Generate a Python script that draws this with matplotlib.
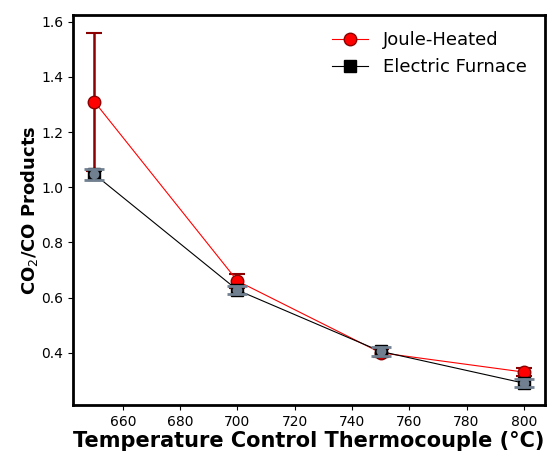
import matplotlib
matplotlib.use("Agg")
import matplotlib.pyplot as plt

temps = [650, 700, 750, 800]
joule = [1.31, 0.66, 0.40, 0.33]
joule_err = [0.25, 0.025, 0.015, 0.015]
furnace = [1.047, 0.627, 0.405, 0.29]
furnace_err = [0.02, 0.015, 0.015, 0.015]

fig = plt.figure(figsize=(5.48, 4.53), dpi=100)
ax = fig.add_axes([0.133, 0.106, 0.862, 0.861])

ax.errorbar(temps, joule, yerr=joule_err, fmt='none', ecolor='darkred', elinewidth=1.8,
            capsize=6, capthick=1.5, zorder=2)
ax.plot(temps, joule, '-o', color='red', lw=0.8, ms=9, mec='darkred', mfc='red', mew=1,
        label='Joule-Heated', zorder=3)
ax.plot(temps, furnace, '-s', color='black', lw=0.8, ms=9, label='Electric Furnace', zorder=4)
ax.errorbar(temps, furnace, yerr=furnace_err, fmt='o', color='slategray', ms=6,
            ecolor='slategray', elinewidth=1.5, capsize=7, capthick=2, zorder=5)

ax.set_xticks(range(660, 801, 20))
ax.set_yticks([0.4, 0.6, 0.8, 1.0, 1.2, 1.4, 1.6])
for s in ax.spines.values():
    s.set_linewidth(2)
ax.tick_params(labelsize=10)
ax.set_xlabel('Temperature Control Thermocouple (°C)', fontsize=15, fontweight='bold', labelpad=2)
ax.set_ylabel('CO$_2$/CO Products', fontsize=13, fontweight='bold', labelpad=1)
ax.legend(loc='upper right', frameon=False, fontsize=13, borderaxespad=0.5,
          bbox_to_anchor=(0.995, 1.0))
fig.savefig('out.png', dpi=100)
